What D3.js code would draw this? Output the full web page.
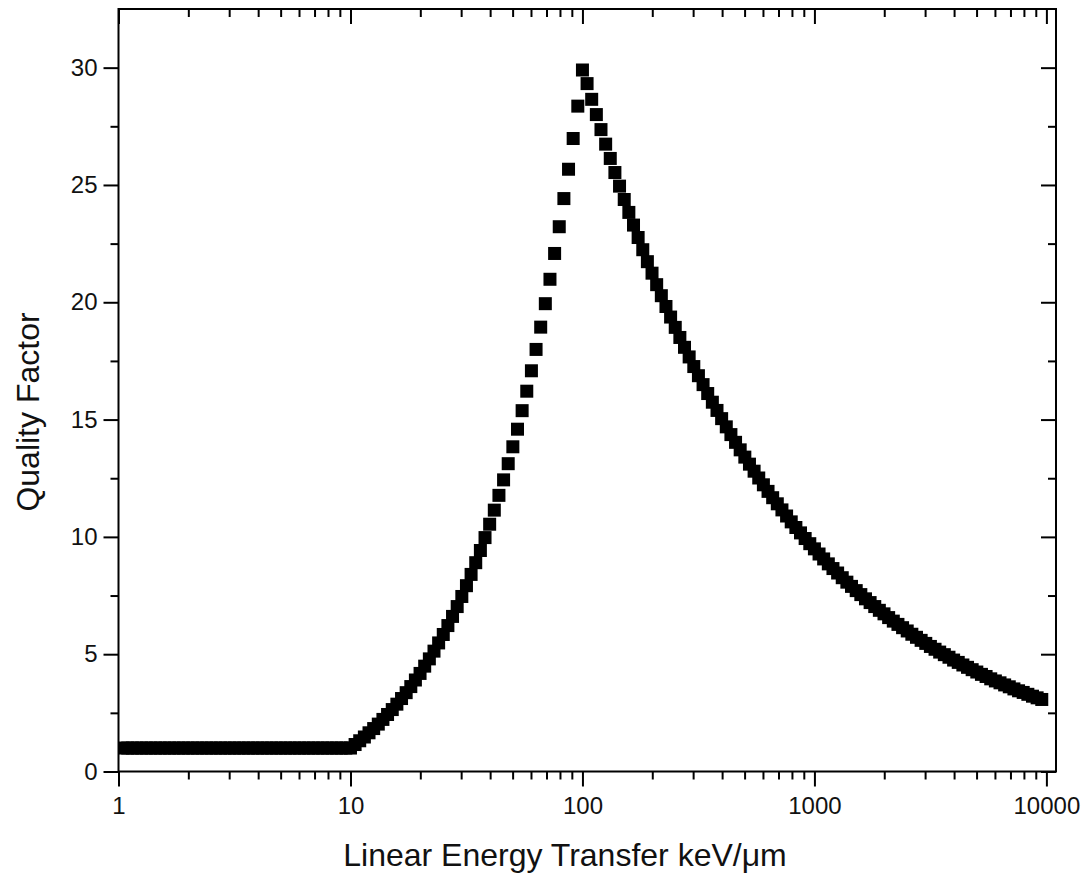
<!DOCTYPE html>
<html>
<head>
<meta charset="utf-8">
<script src="https://cdn.jsdelivr.net/npm/d3@7"></script>
<style>
  html, body { margin: 0; padding: 0; background: #fff; }
  svg { display: block; }
  text { font-family: "Liberation Sans", Arial, Helvetica, sans-serif; fill: #111; }
</style>
</head>
<body>
<svg id="chart" width="1090" height="882"></svg>
<script>
// ---- Data ----
// Flat region: Quality Factor = 1 below 10 keV/um
const flatLET = [1.047,1.096,1.148,1.202,1.259,1.318,1.380,1.445,1.514,1.585,1.660,1.738,1.820,1.905,1.995,2.089,2.188,2.291,2.399,2.512,2.630,2.754,2.884,3.020,3.162,3.311,3.467,3.631,3.802,3.981,4.169,4.365,4.571,4.786,5.012,5.248,5.495,5.754,6.026,6.310,6.607,6.918,7.244,7.586,7.943,8.318,8.710,9.120,9.550];
const flatQ   = [1,1,1,1,1,1,1,1,1,1,1,1,1,1,1,1,1,1,1,1,1,1,1,1,1,1,1,1,1,1,1,1,1,1,1,1,1,1,1,1,1,1,1,1,1,1,1,1,1];

// Rising region: 10 to 100 keV/um
const riseLET = [10,10.47,10.96,11.48,12.02,12.59,13.18,13.80,14.45,15.14,15.85,16.60,17.38,18.20,19.05,19.95,20.89,21.88,22.91,23.99,25.12,26.30,27.54,28.84,30.20,31.62,33.11,34.67,36.31,38.02,39.81,41.69,43.65,45.71,47.86,50.12,52.48,54.95,57.54,60.26,63.10,66.07,69.18,72.44,75.86,79.43,83.18,87.10,91.20,95.50,100];
const riseQ   = [1.00,1.15,1.31,1.47,1.65,1.83,2.02,2.22,2.43,2.64,2.87,3.11,3.36,3.62,3.90,4.18,4.49,4.80,5.13,5.48,5.84,6.22,6.61,7.03,7.46,7.92,8.40,8.90,9.42,9.97,10.54,11.14,11.77,12.43,13.12,13.84,14.59,15.38,16.21,17.08,17.99,18.94,19.94,20.98,22.08,23.22,24.42,25.67,26.98,28.36,29.9];

// Falling region: above 100 keV/um
const fallLET = [104.7,109.6,114.8,120.2,125.9,131.8,138.0,144.5,151.4,158.5,166.0,173.8,182.0,190.5,199.5,208.9,218.8,229.1,239.9,251.2,263.0,275.4,288.4,302.0,316.2,331.1,346.7,363.1,380.2,398.1,416.9,436.5,457.1,478.6,501.2,524.8,549.5,575.4,602.6,631.0,660.7,691.8,724.4,758.6,794.3,831.8,871.0,912.0,955.0,1000,1047,1096,1148,1202,1259,1318,1380,1445,1514,1585,1660,1738,1820,1905,1995,2089,2188,2291,2399,2512,2630,2754,2884,3020,3162,3311,3467,3631,3802,3981,4169,4365,4571,4786,5012,5248,5495,5754,6026,6310,6607,6918,7244,7586,7943,8318,8710,9120,9550];
const fallQ   = [29.32,28.65,28.00,27.36,26.74,26.13,25.53,24.95,24.38,23.83,23.29,22.76,22.24,21.73,21.24,20.75,20.28,19.82,19.37,18.93,18.50,18.08,17.67,17.26,16.87,16.49,16.11,15.74,15.39,15.04,14.69,14.36,14.03,13.71,13.40,13.10,12.80,12.51,12.22,11.94,11.67,11.41,11.15,10.89,10.64,10.40,10.17,9.93,9.71,9.49,9.27,9.06,8.85,8.65,8.46,8.26,8.07,7.89,7.71,7.54,7.36,7.20,7.03,6.87,6.72,6.56,6.41,6.27,6.13,5.99,5.85,5.72,5.59,5.46,5.33,5.21,5.09,4.98,4.87,4.75,4.65,4.54,4.44,4.34,4.24,4.14,4.05,3.95,3.86,3.78,3.69,3.61,3.52,3.44,3.37,3.29,3.21,3.14,3.07];

// Axis ticks
const xMajorTicks = [1, 10, 100, 1000, 10000];
const xTickLabels = ["1", "10", "100", "1000", "10000"];
const yMajorTicks = [0, 5, 10, 15, 20, 25, 30];
const yMinorTicks = [2.5, 7.5, 12.5, 17.5, 22.5, 27.5];
const xTitle = "Linear Energy Transfer keV/\u03BCm";
const yTitle = "Quality Factor";

// ---- Layout ----
const L = 118.5, R = 1056, T = 9, B = 771.5;
const svg = d3.select("#chart");

const x = d3.scaleLog().domain([1, 11000]).range([L, R]);
const y = d3.scaleLinear().domain([0, 32.5]).range([B, T]);

// minor ticks for log axis (2..9 in each decade, within domain)
const xMinorTicks = [];
[1, 10, 100, 1000, 10000].forEach(d => {
  for (let k = 2; k <= 9; k++) { const v = d * k; if (v < 11000) xMinorTicks.push(v); }
});

const points = []
  .concat(flatLET.map((l, i) => ({ l, q: flatQ[i] })))
  .concat(riseLET.map((l, i) => ({ l, q: riseQ[i] })))
  .concat(fallLET.map((l, i) => ({ l, q: fallQ[i] })));

// clip
svg.append("defs").append("clipPath").attr("id", "plotclip")
  .append("rect").attr("x", L).attr("y", T).attr("width", R - L).attr("height", B - T);

// markers
const S = 13;
svg.append("g").attr("clip-path", "url(#plotclip)")
  .selectAll("rect").data(points).enter().append("rect")
  .attr("x", d => x(d.l) - S / 2)
  .attr("y", d => y(d.q) - S / 2)
  .attr("width", S).attr("height", S)
  .attr("fill", "#000");

// axes
const majorLen = 15, minorLen = 8;
function styleAxis(g) {
  g.select(".domain").remove();
  g.selectAll(".tick line").attr("stroke", "#000").attr("stroke-width", 2);
}

// bottom (outward)
const gB = svg.append("g").attr("transform", `translate(0,${B})`);
gB.call(d3.axisBottom(x).tickValues(xMinorTicks).tickSize(minorLen).tickFormat(""));
styleAxis(gB);
const gB2 = svg.append("g").attr("transform", `translate(0,${B})`);
gB2.call(d3.axisBottom(x).tickValues(xMajorTicks).tickSize(majorLen).tickPadding(10)
  .tickFormat((d, i) => xTickLabels[i]));
styleAxis(gB2);
gB2.selectAll(".tick text").attr("font-size", 24).attr("fill", "#111");

// top (inward)
const gT = svg.append("g").attr("transform", `translate(0,${T})`);
gT.call(d3.axisBottom(x).tickValues(xMinorTicks).tickSize(minorLen).tickFormat(""));
styleAxis(gT);
const gT2 = svg.append("g").attr("transform", `translate(0,${T})`);
gT2.call(d3.axisBottom(x).tickValues(xMajorTicks).tickSize(majorLen).tickFormat(""));
styleAxis(gT2);

// left (outward)
const gL = svg.append("g").attr("transform", `translate(${L},0)`);
gL.call(d3.axisLeft(y).tickValues(yMinorTicks).tickSize(minorLen).tickFormat(""));
styleAxis(gL);
const gL2 = svg.append("g").attr("transform", `translate(${L},0)`);
gL2.call(d3.axisLeft(y).tickValues(yMajorTicks).tickSize(majorLen).tickPadding(6).tickFormat(d3.format("d")));
styleAxis(gL2);
gL2.selectAll(".tick text").attr("font-size", 24).attr("fill", "#111");

// right (inward)
const gR = svg.append("g").attr("transform", `translate(${R},0)`);
gR.call(d3.axisLeft(y).tickValues(yMinorTicks).tickSize(minorLen).tickFormat(""));
styleAxis(gR);
const gR2 = svg.append("g").attr("transform", `translate(${R},0)`);
gR2.call(d3.axisLeft(y).tickValues(yMajorTicks).tickSize(majorLen).tickFormat(""));
styleAxis(gR2);

// frame
svg.append("rect").attr("x", L).attr("y", T).attr("width", R - L).attr("height", B - T)
  .attr("fill", "none").attr("stroke", "#000").attr("stroke-width", 2);

// titles
svg.append("text").attr("x", 565).attr("y", 866)
  .attr("text-anchor", "middle").attr("font-size", 32).text(xTitle);
svg.append("text")
  .attr("transform", `translate(39,412) rotate(-90)`)
  .attr("text-anchor", "middle").attr("font-size", 32).text(yTitle);
</script>
</body>
</html>
